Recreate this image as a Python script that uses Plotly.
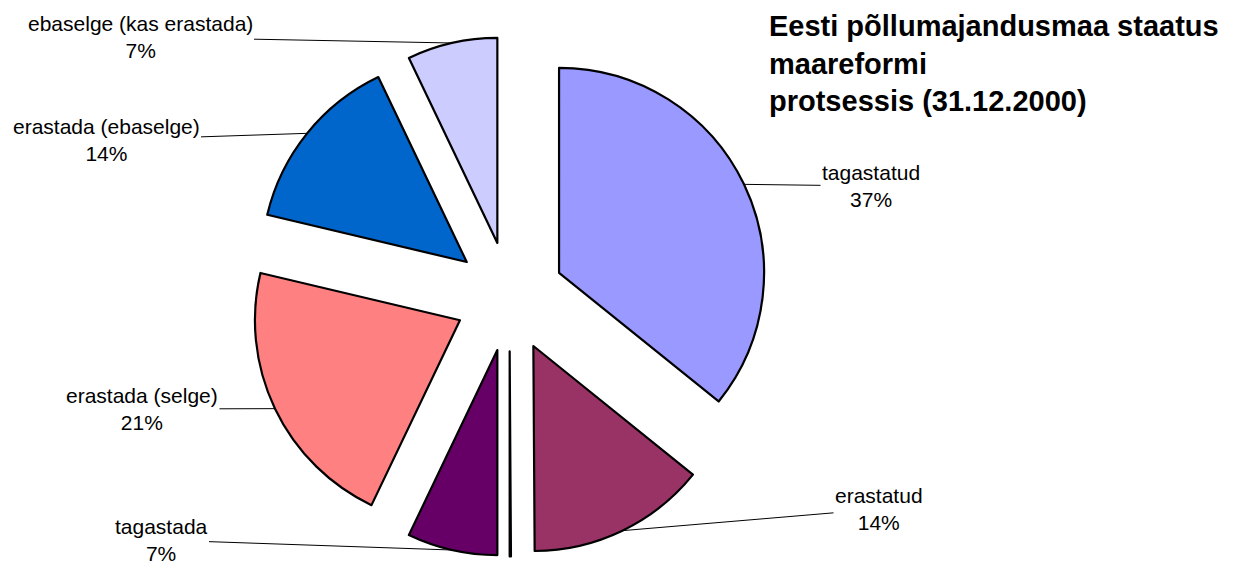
import math
import plotly.graph_objects as go

labels = ["tagastatud", "erastatud", "", "tagastada", "erastada (selge)",
          "erastada (ebaselge)", "ebaselge (kas erastada)"]
values = [35.8, 14.1, 0.1, 7.1, 21.6, 14.2, 7.1]
pct_text = ["37%", "14%", "", "7%", "21%", "14%", "7%"]
colors = ["#9999FF", "#993366", "#FFFFFF", "#660066", "#FF8080", "#0066CC", "#CCCCFF"]
# label block centres (pixels) for the outside labels
label_pos = [(871, 186), (879, 509), None, (161, 540), (142, 409), (106, 140), (140, 37)]
title = "Eesti põllumajandusmaa staatus<br>maareformi<br>protsessis (31.12.2000)"

# ---- layout geometry ----
W, H = 1246, 567
cx, cy = 509.5, 296.5      # pie centre (px)
r = 205                    # slice radius (px)
pull = 0.268               # explosion fraction
ext = r * (1 + pull)

fig = go.Figure(go.Pie(
    labels=[l if l else " " for l in labels],
    values=values,
    sort=False,
    direction="clockwise",
    rotation=0,
    pull=[pull] * len(values),
    marker=dict(colors=colors, line=dict(color="black", width=2.2)),
    textinfo="none",
    hoverinfo="skip",
    showlegend=False,
    domain=dict(x=[(cx - ext) / W, (cx + ext) / W],
                y=[1 - (cy + ext) / H, 1 - (cy - ext) / H]),
))

total = sum(values)
annotations = []
cum = 0
for lab, v, pct, pos in zip(labels, values, pct_text, label_pos):
    mid = (cum + v / 2) / total * 2 * math.pi
    cum += v
    if pos is None:
        continue
    hx = cx + ext * math.sin(mid)
    hy = cy - ext * math.cos(mid)
    annotations.append(dict(
        x=hx / W, y=1 - hy / H, xref="paper", yref="paper",
        text=f"{lab}<br>{pct}",
        showarrow=True, arrowhead=0, arrowwidth=1, arrowcolor="#000000",
        ax=pos[0] - hx, ay=pos[1] - hy, axref="pixel", ayref="pixel",
        standoff=0,
        font=dict(family="Liberation Sans, Arial, sans-serif", size=21, color="#000000"),
        align="center",
    ))

annotations.append(dict(
    x=767 / W, y=1 - 8 / H, xref="paper", yref="paper",
    xanchor="left", yanchor="top", align="left", showarrow=False,
    text=f"<b>{title}</b>",
    font=dict(family="Liberation Sans, Arial, sans-serif", size=29, color="#000000"),
))

fig.update_layout(
    width=W, height=H,
    margin=dict(l=0, r=0, t=0, b=0),
    paper_bgcolor="white", plot_bgcolor="white",
    annotations=annotations,
)

fig.write_html("out.html", config={"displayModeBar": False},
               post_script="document.body.style.margin='0';")
